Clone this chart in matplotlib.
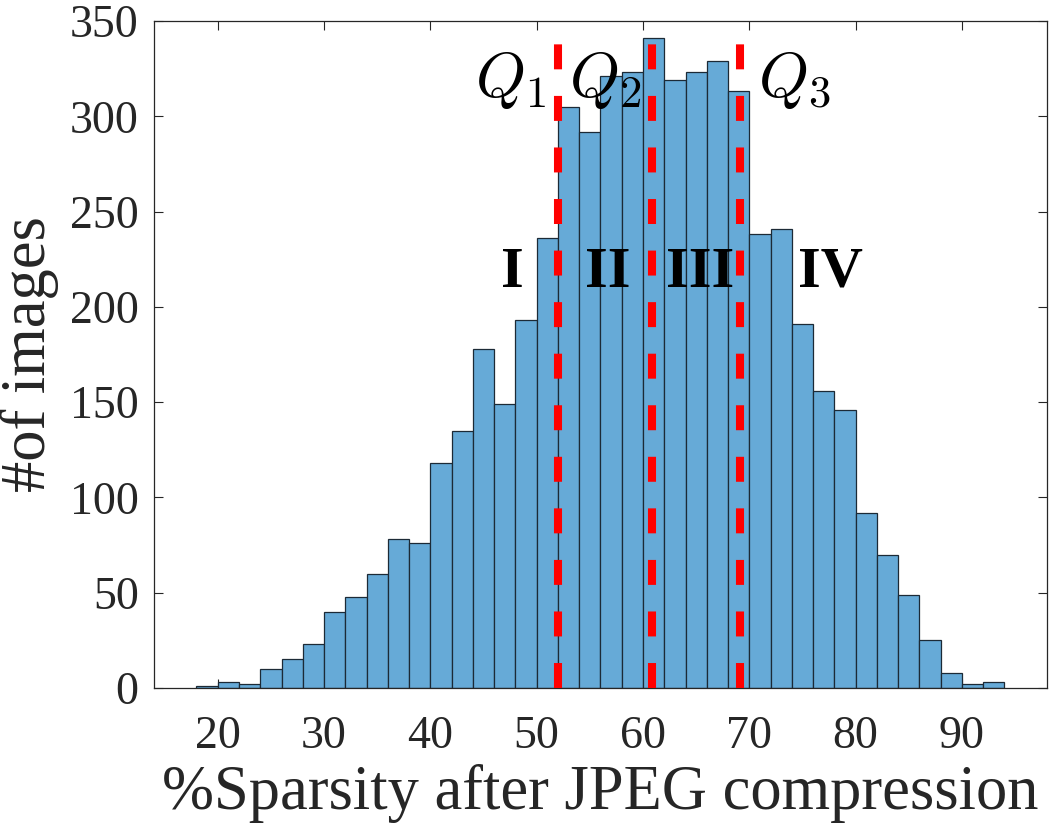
import numpy as np
import matplotlib
matplotlib.use("Agg")
import matplotlib.pyplot as plt

# ---- data ----
bin_edges = np.arange(18, 96, 2)  # 18..94
counts = [1, 3, 2, 10, 15, 23, 40, 48, 60, 78, 76, 118, 135, 178, 149, 193, 236,
          305, 292, 321, 323, 341, 319, 323, 329, 313, 238, 241, 191, 156, 146,
          92, 70, 49, 25, 8, 2, 3]
quartiles = [52.0, 60.8, 69.1]
q_labels = [r"$Q_1$", r"$Q_2$", r"$Q_3$"]
q_label_x = [44.2, 53.0, 70.8]
q_label_y = 310
region_labels = ["I", "II", "III", "IV"]
region_x = [47.7, 56.7, 65.4, 77.6]
region_y = 218
x_ticks = [20, 30, 40, 50, 60, 70, 80, 90]
y_ticks = [0, 50, 100, 150, 200, 250, 300, 350]

plt.rcParams['font.family'] = ['Liberation Serif', 'DejaVu Serif']
plt.rcParams['mathtext.fontset'] = 'cm'

fig = plt.figure(figsize=(10.53, 8.36), dpi=100)
ax = fig.add_axes([0.1462, 0.177, 0.8481, 0.7979])

axc = '#262626'
ax.bar(bin_edges[:-1], counts, width=2, align='edge', color='#66AAD7',
       edgecolor='#1c2a36', linewidth=0.9, zorder=2)

for q in quartiles:
    ax.plot([q, q], [0, 350], color='#FF0000', linewidth=5.8,
            linestyle=(0, (3.1, 3.3)), zorder=3, solid_capstyle='butt')

for xl, lab in zip(q_label_x, q_labels):
    ax.text(xl, q_label_y, lab, fontsize=46, ha='left', va='baseline',
            color='black', zorder=4)

for xr, lab in zip(region_x, region_labels):
    ax.text(xr, region_y, lab, fontsize=42, fontweight='bold', ha='center',
            va='center', color='black', zorder=4)

ax.set_xlim(14, 98)
ax.set_ylim(0, 350)
ax.set_xticks(x_ticks)
ax.set_yticks(y_ticks)
ax.tick_params(direction='in', length=6.5, width=0.8, color=axc,
               labelsize=33, labelcolor=axc, top=True, right=True)
ax.tick_params(axis='x', pad=20)
ax.tick_params(axis='y', pad=11)
for s in ax.spines.values():
    s.set_color(axc)
    s.set_linewidth(0.9)

ax.set_xlabel("%Sparsity after JPEG compression", fontsize=45, color=axc,
              labelpad=4)
ax.set_ylabel("#of images", fontsize=45, color=axc, labelpad=8)

fig.savefig("out.png", dpi=100)
